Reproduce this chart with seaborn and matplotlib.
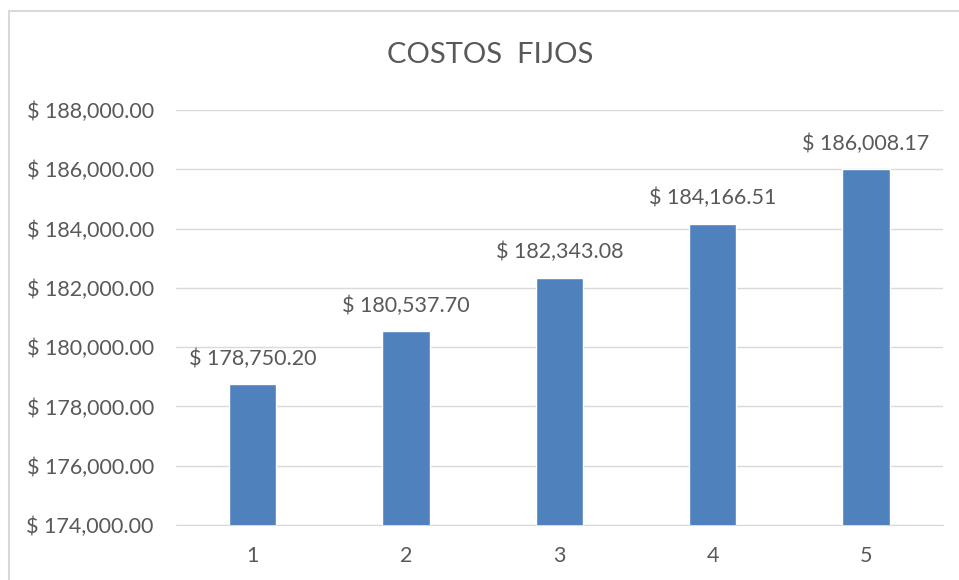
import pandas as pd
import numpy as np
import seaborn as sns
import matplotlib.pyplot as plt
from matplotlib.patches import Rectangle

# datos
periodos = ["1", "2", "3", "4", "5"]
costos = [178750.20, 180537.70, 182343.08, 184166.51, 186008.17]
yticks = [174000, 176000, 178000, 180000, 182000, 184000, 186000, 188000]

data = pd.DataFrame({"periodo": periodos, "costo": costos})

sns.set_style("white")
plt.rcParams['font.family'] = ['Lato', 'DejaVu Sans']
gris = "#595959"

fig = plt.figure(figsize=(9.59, 5.8), dpi=100)
ax = fig.add_axes([0.1835, 0.0948, 0.7995, 0.7155])

sns.barplot(data=data, x="periodo", y="costo", color="#4F81BD", width=0.31,
            saturation=1, ax=ax, zorder=3)

ax.set_ylim(174000, 188000)
ax.set_xlim(-0.5, 4.5)
ax.set_yticks(yticks)
ax.set_yticklabels(["$ {:,.2f}".format(v) for v in yticks])
ax.yaxis.grid(True, color="#D9D9D9", linewidth=1, zorder=0)
ax.set_axisbelow(True)
ax.tick_params(axis="both", length=0, labelsize=15.5, colors=gris)
ax.tick_params(axis="y", pad=16)
ax.tick_params(axis="x", pad=15)
ax.set_xlabel("")
ax.set_ylabel("")
for s in ["top", "right", "left"]:
    ax.spines[s].set_visible(False)
ax.spines["bottom"].set_color("#D9D9D9")

ax.bar_label(ax.containers[0], labels=["$ {:,.2f}".format(v) for v in costos],
             padding=11, fontsize=15.5, color=gris)

fig.text(0.511, 0.905, "COSTOS  FIJOS", ha="center", va="center", fontsize=21, color=gris)

# marco del area del grafico
fig.patches.append(Rectangle((9 / 959, -0.1), 1.2, 1 - 11 / 580 + 0.1,
                             transform=fig.transFigure, fill=False,
                             edgecolor="#D9D9D9", linewidth=1.5))

plt.savefig("out.png", dpi=100)
